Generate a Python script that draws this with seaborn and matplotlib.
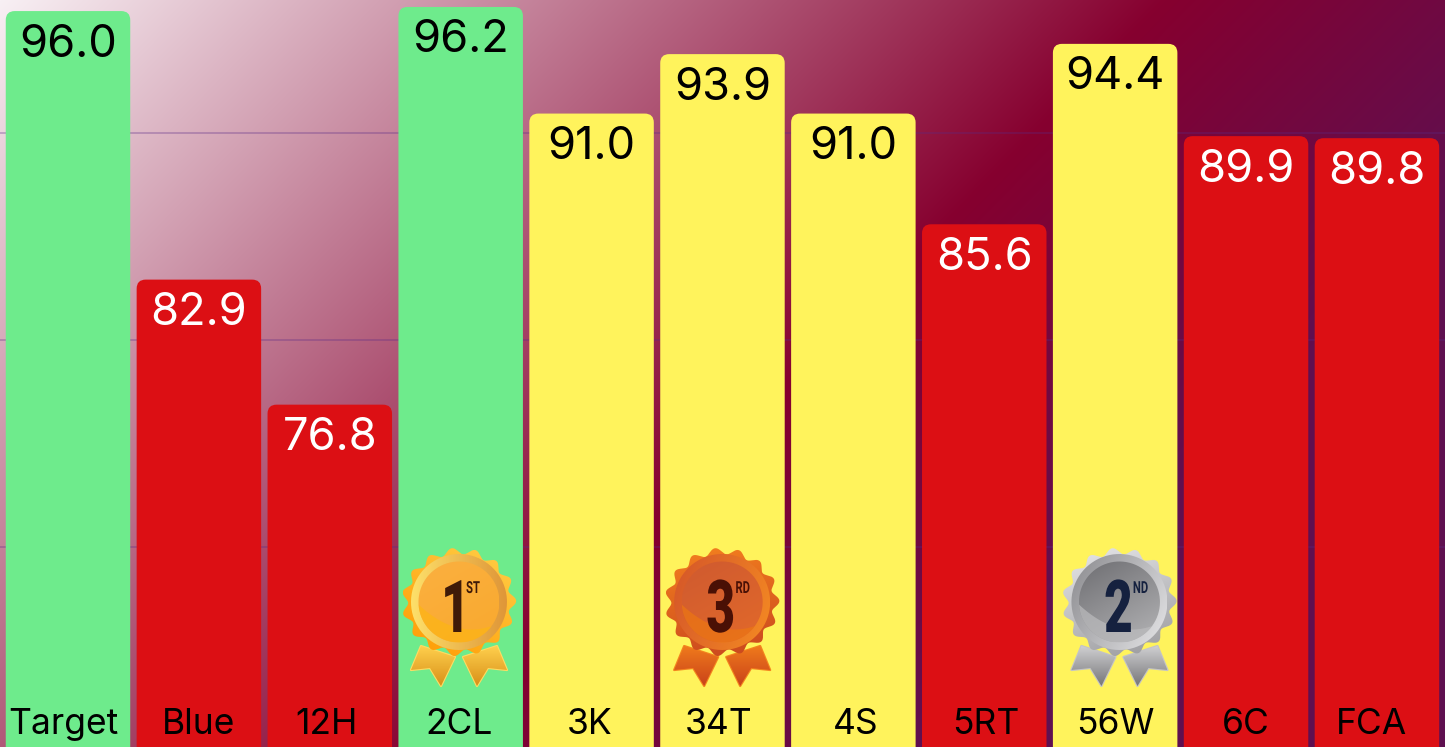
import numpy as np
import pandas as pd
import matplotlib
matplotlib.use("Agg")
import matplotlib.pyplot as plt
from matplotlib.colors import LinearSegmentedColormap, to_rgb
from matplotlib.patches import FancyBboxPatch
from matplotlib.path import Path
from matplotlib.patheffects import AbstractPathEffect
from matplotlib.transforms import Affine2D
import seaborn as sns

# ---- data ----
categories = ["Target", "Blue", "12H", "2CL", "3K", "34T", "4S", "5RT", "56W", "6C", "FCA"]
values = [96.0, 82.9, 76.8, 96.2, 91.0, 93.9, 91.0, 85.6, 94.4, 89.9, 89.8]
status = ["good", "bad", "bad", "good", "mid", "mid", "mid", "bad", "mid", "bad", "bad"]
medal_ranks = {"2CL": 1, "56W": 2, "34T": 3}

# ---- style / layout ----
W, H, DPI = 1445, 747, 100
palette = {"good": "#6eeb8c", "mid": "#fff35c", "bad": "#dc0f14"}
value_colors = {"good": "black", "mid": "black", "bad": "white"}
grid_levels = [90.05, 79.95, 69.86]
label_shift_px = [-4.5, -0.5, -3.5, -1.5, -1.5, -4, 2, 2, 0.5, 0, -5.5]
FONT = ["Inter", "DejaVu Sans"]

sns.set_theme(style="white")
plt.rcParams["font.family"] = FONT

fig = plt.figure(figsize=(W / DPI, H / DPI), dpi=DPI)

# background gradient (45 degrees)
bg = fig.add_axes([0, 0, 1, 1], zorder=0)
bg.axis("off")
yy, xx = np.mgrid[0:H, 0:W]
t = xx + 0.98 * yy
stops = [0, 1165, 1650, 3000]
cols = np.array([to_rgb(c) for c in ["#f8f0f4", "#86002f", "#5f1050", "#5f1050"]])
img = np.dstack([np.interp(t, stops, cols[:, k]) for k in range(3)])
bg.imshow(img, extent=(0, W, H, 0), aspect="auto", interpolation="bilinear")

# bars
ax = fig.add_axes([0, 0, 1, 1], zorder=1)
ax.patch.set_alpha(0)
df = pd.DataFrame({"category": categories, "value": values, "status": status})
sns.barplot(data=df, x="category", y="value", hue="status", palette=palette,
            dodge=False, width=0.951, legend=False, saturation=1, ax=ax)
ax.set_xlim(-0.5195, 10.52)
ax.set_ylim(60.1, 96.54)
ax.set_xlabel("")
ax.set_ylabel("")
for s in ax.spines.values():
    s.set_visible(False)
ax.set_yticks(grid_levels)
ax.set_yticklabels([])
ax.tick_params(axis="both", length=0)
ax.tick_params(axis="x", labelbottom=False)
ax.grid(axis="y", color="#5a2a86", alpha=0.3, lw=1.4)
ax.set_axisbelow(True)

# rounded tops: swap every seaborn bar for a rounded patch of the same geometry
px_x = W / (ax.get_xlim()[1] - ax.get_xlim()[0])
px_y = H / (ax.get_ylim()[1] - ax.get_ylim()[0])
RADIUS = 9
for bar in list(ax.patches):
    if bar.get_height() == 0 or np.isnan(bar.get_height()):
        continue
    bar.set_visible(False)
    ax.add_patch(FancyBboxPatch(
        (bar.get_x(), bar.get_y()), bar.get_width(), bar.get_height(),
        boxstyle=f"round,pad=0,rounding_size={RADIUS / px_x}",
        mutation_aspect=px_x / px_y, fc=bar.get_facecolor(), ec="none", zorder=2))

# value labels
for i, (v, st) in enumerate(zip(values, status)):
    ax.annotate(f"{v:.1f}", (i, v), xytext=(0, -45.5 * 72 / DPI), textcoords="offset points",
                ha="center", va="baseline", fontsize=32.5, color=value_colors[st], zorder=4)

# category labels
for i, (cat, dx) in enumerate(zip(categories, label_shift_px)):
    ax.annotate(cat, (i, 0), xycoords=("data", "axes fraction"),
                xytext=(dx * 72 / DPI, 13 * 72 / DPI), textcoords="offset points",
                ha="center", va="baseline", fontsize=25.5, color="black", zorder=5)

# medals, drawn on a pixel-scaled overlay
ov = fig.add_axes([0, 0, 1, 1], zorder=2)
ov.patch.set_alpha(0)
ov.axis("off")


class Reshape(AbstractPathEffect):
    """Scale a text's glyphs around a display anchor (condensed medal lettering)."""

    def __init__(self, sx, sy, ax_px, ay_px):
        super().__init__()
        self.m = (Affine2D().translate(-ax_px, -ay_px).scale(sx, sy)
                  .translate(ax_px, ay_px))

    def draw_path(self, renderer, gc, tpath, affine, rgbFace=None):
        renderer.draw_path(gc, tpath, affine + self.m, rgbFace)


def grad(path, c0, c1, angle, z):
    v = path.vertices
    x0, y0 = v.min(axis=0)
    x1, y1 = v.max(axis=0)
    n = 120
    gy, gx = np.mgrid[0:1:n * 1j, 0:1:n * 1j]
    a = np.deg2rad(angle)
    g = gx * np.cos(a) + gy * np.sin(a)
    g = (g - g.min()) / (g.max() - g.min())
    cm = LinearSegmentedColormap.from_list("m", [c0, c1])
    im = ov.imshow(cm(g), extent=(x0, x1, y1, y0), aspect="auto", zorder=z, interpolation="bilinear")
    im.set_clip_path(path, ov.transData)


def circle(cx, cy, r):
    th = np.linspace(0, 2 * np.pi, 240)
    return Path(np.c_[cx + r * np.cos(th), cy + r * np.sin(th)])


def scallop(cx, cy, rx, ry, amp, n):
    th = np.linspace(0, 2 * np.pi, 720)
    w = np.cos(n * th + 0.3)
    return Path(np.c_[cx + (rx + amp * w) * np.cos(th), cy + (ry + amp * w) * np.sin(th)])


MEDALS = {
    1: dict(dx=-1.7, num="1", sup="ST", ink="#3f1a08", num_dx=-3.5, sup_dx=14,
            edge=("#ffd14a", "#ff9800"), edge_a=125, ring=("#fde06a", "#df9638"), ring_a=0,
            disc=("#fbb040", "#f9a92e"), low="#fdb514",
            rib=("#ffcf4d", "#d89018"), rib_edge="#ffdb62"),
    2: dict(dx=4.3, num="2", sup="ND", ink="#15213f", num_dx=-1, sup_dx=21,
            edge=("#e8e8ea", "#98989c"), edge_a=70, ring=("#8a8a8e", "#e6e6e8"), ring_a=30,
            disc=("#6e6e72", "#b4b4b6"), low="#bcbcbe",
            rib=("#cfcfd1", "#767679"), rib_edge="#c4c4c6"),
    3: dict(dx=-0.3, num="3", sup="RD", ink="#4a1005", num_dx=-1.5, sup_dx=20.5,
            edge=("#f4801e", "#c9461e"), edge_a=80, ring=("#d4552a", "#f58b22"), ring_a=20,
            disc=("#cf5a30", "#e2692a"), low="#ec7612",
            rib=("#f07a1c", "#c9421a"), rib_edge="#f4851e"),
}

rib_l = np.array([[-38, 44], [-48, 68], [-29, 66], [-18, 84], [-4, 55]], float)

for i, cat in enumerate(categories):
    if cat not in medal_ranks:
        continue
    m = MEDALS[medal_ranks[cat]]
    cx = ax.transData.transform((i, 0))[0] + m["dx"]
    cy = 602
    for sgn in (1, -1):
        pts = rib_l * [sgn, 1] + [cx, cy]
        ov.fill(pts[:, 0], pts[:, 1], fc="none", ec=m["rib_edge"], lw=1.6, zorder=5, joinstyle="round")
        grad(Path(np.r_[pts, pts[:1]]), m["rib"][0], m["rib"][1], 90, 5.5)
    grad(scallop(cx, cy, 54, 51, 3.2, 15), m["edge"][0], m["edge"][1], m["edge_a"], 6)
    grad(circle(cx, cy, 48), m["ring"][0], m["ring"][1], m["ring_a"], 7)
    disc = circle(cx, cy, 40.5)
    grad(disc, m["disc"][0], m["disc"][1], 60, 8)
    u = np.linspace(-1, 1, 80)
    lo = ov.fill_between(cx + 41 * u, cy + 27 - 25 * ((u - 0.3) / 1.3) ** 2, cy + 42,
                         color=m["low"], alpha=0.7, lw=0, zorder=9)
    lo.set_clip_path(disc, ov.transData)
    nx, ny = cx + m["num_dx"], cy + 30
    sx, sy = cx + m["sup_dx"], cy - 9
    ov.text(nx, ny, m["num"], family="Roboto", weight="black", fontsize=30, color=m["ink"],
            ha="center", va="baseline", zorder=10,
            path_effects=[Reshape(1.19, 1.75, nx, H - ny)])
    ov.text(sx, sy, m["sup"], family="Roboto", weight="bold", fontsize=9, color=m["ink"],
            ha="center", va="baseline", zorder=10,
            path_effects=[Reshape(0.9, 1.33, sx, H - sy)])

ov.set_xlim(0, W)
ov.set_ylim(H, 0)

fig.savefig("out.png", dpi=DPI)
